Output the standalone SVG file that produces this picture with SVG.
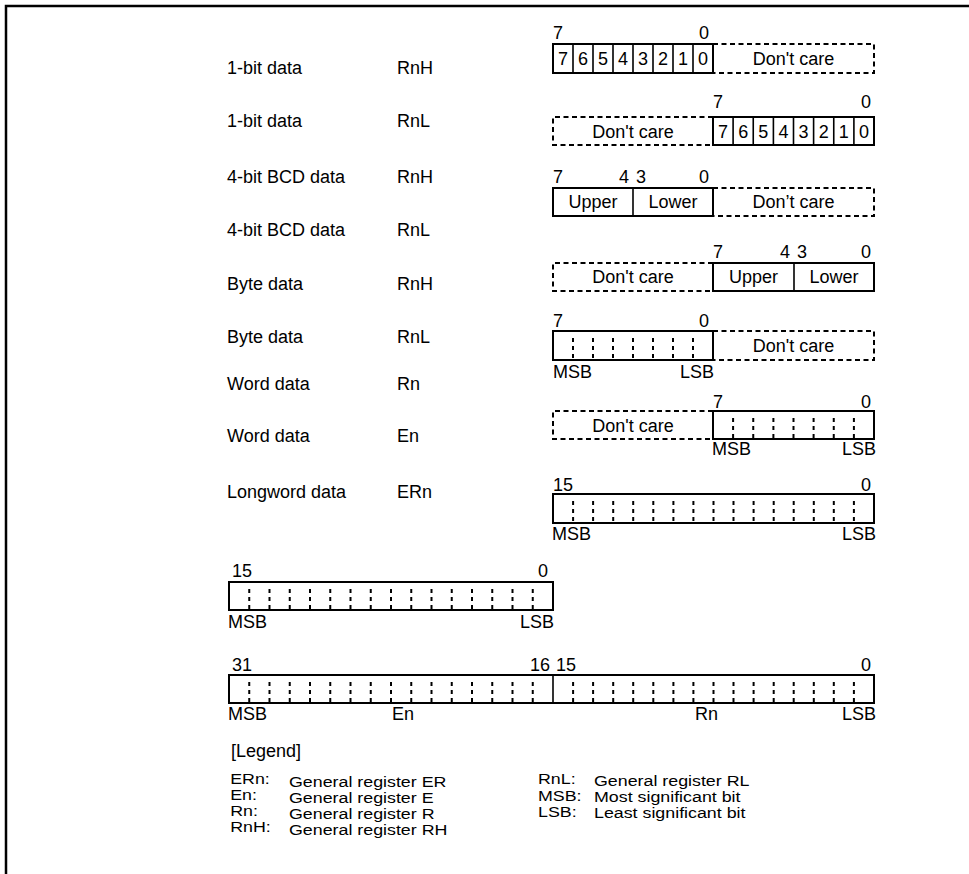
<svg xmlns="http://www.w3.org/2000/svg" width="969" height="874" viewBox="0 0 969 874">
<style>
text{font-family:"Liberation Sans",Arial,sans-serif;font-size:18px;fill:#000}
.m{text-anchor:middle}
.e{text-anchor:end}
.b{fill:none;stroke:#000;stroke-width:2}
.d{fill:none;stroke:#000;stroke-width:2;stroke-dasharray:5 3.5}
.c{fill:none;stroke:#000;stroke-width:1.6}
.v{fill:none;stroke:#000;stroke-width:2;stroke-dasharray:4 4}
#legend text{font-size:15.5px}
</style>
<rect width="969" height="874" fill="#fff"/>
<path d="M6 874V6H969" fill="none" stroke="#000" stroke-width="2.5"/>

<g id="labels">
<text x="227" y="74">1-bit data</text><text x="397" y="74">RnH</text>
<text x="227" y="127">1-bit data</text><text x="397" y="127">RnL</text>
<text x="227" y="183">4-bit BCD data</text><text x="397" y="183">RnH</text>
<text x="227" y="236">4-bit BCD data</text><text x="397" y="236">RnL</text>
<text x="227" y="290">Byte data</text><text x="397" y="290">RnH</text>
<text x="227" y="343">Byte data</text><text x="397" y="343">RnL</text>
<text x="227" y="390">Word data</text><text x="397" y="390">Rn</text>
<text x="227" y="442">Word data</text><text x="397" y="442">En</text>
<text x="227" y="498">Longword data</text><text x="397" y="498">ERn</text>
</g>

<g id="row1-bit-rnh">
<text x="553" y="39">7</text><text x="699" y="39">0</text>
<path class="d" d="M713 44H874V73H713"/>
<rect class="b" x="553" y="44" width="160" height="29"/>
<path class="c" d="M573 44V73M593 44V73M613 44V73M633 44V73M653 44V73M673 44V73M693 44V73"/>
<text class="m" x="563" y="65">7</text><text class="m" x="583" y="65">6</text><text class="m" x="603" y="65">5</text><text class="m" x="623" y="65">4</text><text class="m" x="643" y="65">3</text><text class="m" x="663" y="65">2</text><text class="m" x="683" y="65">1</text><text class="m" x="703" y="65">0</text>
<text class="m" x="793.5" y="65">Don't care</text>
</g>

<g id="row2-bit-rnl">
<text x="713" y="108">7</text><text x="861" y="108">0</text>
<path class="d" d="M713 117H553V145H713"/>
<rect class="b" x="713" y="117" width="161" height="28"/>
<path class="c" d="M733.1 117V145M753.25 117V145M773.4 117V145M793.5 117V145M813.6 117V145M833.75 117V145M853.9 117V145"/>
<text class="m" x="723" y="138">7</text><text class="m" x="743.2" y="138">6</text><text class="m" x="763.3" y="138">5</text><text class="m" x="783.4" y="138">4</text><text class="m" x="803.5" y="138">3</text><text class="m" x="823.7" y="138">2</text><text class="m" x="843.8" y="138">1</text><text class="m" x="864" y="138">0</text>
<text class="m" x="633" y="138">Don't care</text>
</g>

<g id="row3-bcd-rnh">
<text x="553" y="183">7</text><text x="619" y="183">4</text><text x="636" y="183">3</text><text x="699" y="183">0</text>
<path class="d" d="M713 188H874V216H713"/>
<rect class="b" x="553" y="188" width="160" height="28"/>
<path class="c" d="M633 188V216"/>
<text class="m" x="593" y="208">Upper</text><text class="m" x="673" y="208">Lower</text>
<text class="m" x="793.5" y="208">Don’t care</text>
</g>

<g id="row4-bcd-rnl">
<text x="713" y="258">7</text><text x="780" y="258">4</text><text x="797" y="258">3</text><text x="861" y="258">0</text>
<path class="d" d="M713 263H553V291H713"/>
<rect class="b" x="713" y="263" width="161" height="28"/>
<path class="c" d="M794 263V291"/>
<text class="m" x="753.5" y="283">Upper</text><text class="m" x="834" y="283">Lower</text>
<text class="m" x="633" y="283">Don't care</text>
</g>

<g id="row5-byte-rnh">
<text x="553" y="327">7</text><text x="699" y="327">0</text>
<path class="d" d="M713 331H874V360H713"/>
<rect class="b" x="553" y="331" width="160" height="29"/>
<path class="v" d="M573 338V360M593 338V360M613 338V360M633 338V360M653 338V360M673 338V360M693 338V360"/>
<text class="m" x="793.5" y="352">Don't care</text>
<text x="553" y="378">MSB</text><text class="e" x="714" y="378">LSB</text>
</g>

<g id="row6-byte-rnl">
<text x="713" y="408">7</text><text x="861" y="408">0</text>
<path class="d" d="M713 411H553V439H713"/>
<rect class="b" x="713" y="411" width="161" height="28"/>
<path class="v" d="M733.1 418V439M753.25 418V439M773.4 418V439M793.5 418V439M813.6 418V439M833.75 418V439M853.9 418V439"/>
<text class="m" x="633" y="432">Don't care</text>
<text x="712" y="455">MSB</text><text class="e" x="876" y="455">LSB</text>
</g>

<g id="row7-word-rn">
<text x="553" y="491">15</text><text x="861" y="491">0</text>
<rect class="b" x="553" y="494" width="321" height="29"/>
<path class="v" d="M573.1 501V523M593.1 501V523M613.2 501V523M633.2 501V523M653.3 501V523M673.4 501V523M693.4 501V523M713.5 501V523M733.5 501V523M753.6 501V523M773.7 501V523M793.7 501V523M813.8 501V523M833.8 501V523M853.9 501V523"/>
<text x="552" y="540">MSB</text><text class="e" x="876" y="540">LSB</text>
</g>

<g id="row8-word-en">
<text x="232" y="577">15</text><text x="538" y="577">0</text>
<rect class="b" x="229" y="582" width="324" height="28"/>
<path class="v" d="M249.25 589V610M269.5 589V610M289.75 589V610M310 589V610M330.25 589V610M350.5 589V610M370.75 589V610M391 589V610M411.25 589V610M431.5 589V610M451.75 589V610M472 589V610M492.25 589V610M512.5 589V610M532.75 589V610"/>
<text x="228" y="628">MSB</text><text class="e" x="554" y="628">LSB</text>
</g>

<g id="row9-longword">
<text x="232" y="671">31</text><text x="530" y="671">16</text><text x="556" y="671">15</text><text x="861" y="671">0</text>
<rect class="b" x="229" y="675" width="645" height="28"/>
<path class="c" d="M553 675V703" stroke-width="2"/>
<path class="v" d="M249.25 682V703M269.5 682V703M289.75 682V703M310 682V703M330.25 682V703M350.5 682V703M370.75 682V703M391 682V703M411.25 682V703M431.5 682V703M451.75 682V703M472 682V703M492.25 682V703M512.5 682V703M532.75 682V703"/>
<path class="v" d="M573.1 682V703M593.1 682V703M613.2 682V703M633.2 682V703M653.3 682V703M673.4 682V703M693.4 682V703M713.5 682V703M733.5 682V703M753.6 682V703M773.7 682V703M793.7 682V703M813.8 682V703M833.8 682V703M853.9 682V703"/>
<text x="228" y="720">MSB</text><text x="392" y="720">En</text><text x="695" y="720">Rn</text><text class="e" x="876" y="720">LSB</text>
</g>

<text x="231" y="757">[Legend]</text>
<g id="legend" transform="translate(229 0) scale(1.15 1) translate(-229 0)">
<text x="230" y="784">ERn:</text><text x="281.2" y="787">General register ER</text>
<text x="230" y="800">En:</text><text x="281.2" y="803">General register E</text>
<text x="230" y="816">Rn:</text><text x="281.2" y="819">General register R</text>
<text x="230" y="832">RnH:</text><text x="281.2" y="835">General register RH</text>
<text x="497.7" y="784">RnL:</text><text x="546.4" y="786">General register RL</text>
<text x="497.7" y="801">MSB:</text><text x="546.4" y="802">Most significant bit</text>
<text x="497.7" y="817">LSB:</text><text x="546.4" y="818">Least significant bit</text>
</g>
</svg>
